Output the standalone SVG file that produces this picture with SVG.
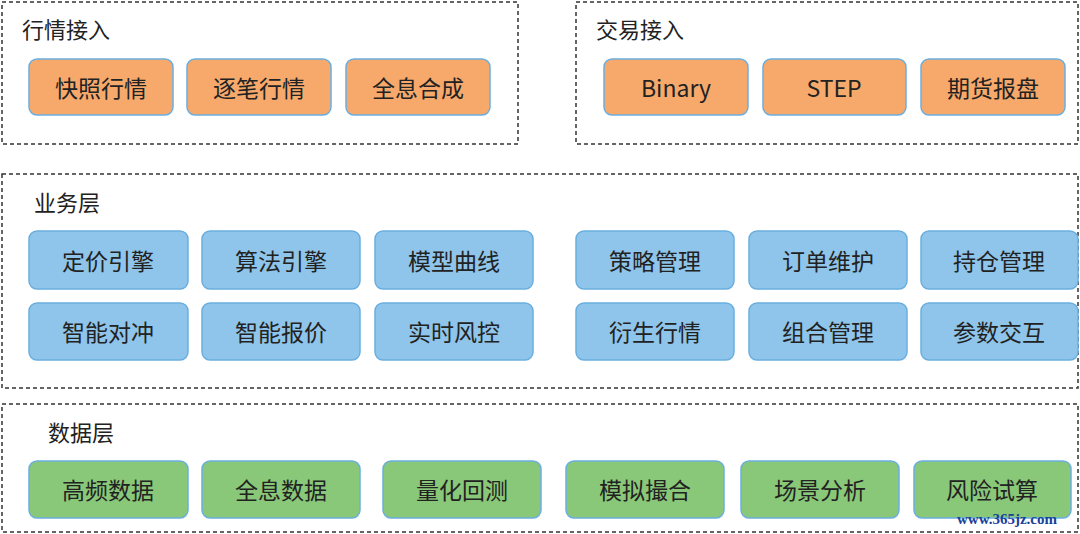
<svg xmlns="http://www.w3.org/2000/svg" width="1080" height="534" viewBox="0 0 1080 534">
<style>
.c{fill:none;stroke:#333;stroke-width:1.5;stroke-dasharray:4 3}
.b rect{stroke:#6aaee0;stroke-width:1.5}
.o rect{fill:#f6a96b}.u rect{fill:#8fc5ea}.g rect{fill:#89c878}
text{font-family:"Noto Sans CJK SC","Liberation Sans",sans-serif;fill:#222}
.t{font-size:22px}
.b text{font-size:23px;text-anchor:middle;dominant-baseline:central}
.w{font-family:"Liberation Serif",serif;font-size:15px;font-weight:bold;fill:#1a3f9a}
</style>
<rect width="1080" height="534" fill="#fff"/>
<g id="containers">
<rect class="c" x="2" y="2" width="516" height="142"/><text class="t" x="22" y="38">行情接入</text>
<rect class="c" x="576" y="2" width="502" height="142"/><text class="t" x="596" y="38">交易接入</text>
<rect class="c" x="2" y="174" width="1076" height="214"/><text class="t" x="34" y="211">业务层</text>
<rect class="c" x="2" y="404" width="1076" height="128"/><text class="t" x="48" y="441">数据层</text>
</g>
<g id="n1" class="b o"><rect x="29" y="59" width="144" height="56" rx="8"/><text x="101" y="87">快照行情</text></g>
<g id="n2" class="b o"><rect x="187" y="59" width="144" height="56" rx="8"/><text x="259" y="87">逐笔行情</text></g>
<g id="n3" class="b o"><rect x="346" y="59" width="144" height="56" rx="8"/><text x="418" y="87">全息合成</text></g>
<g id="n4" class="b o"><rect x="604" y="59" width="144" height="56" rx="8"/><text x="676" y="87">Binary</text></g>
<g id="n5" class="b o"><rect x="763" y="59" width="143" height="56" rx="8"/><text x="834" y="87">STEP</text></g>
<g id="n6" class="b o"><rect x="921" y="59" width="144" height="56" rx="8"/><text x="993" y="87">期货报盘</text></g>
<g id="u1" class="b u"><rect x="29" y="231" width="159" height="58" rx="8"/><text x="108" y="260">定价引擎</text></g>
<g id="u2" class="b u"><rect x="202" y="231" width="158" height="58" rx="8"/><text x="281" y="260">算法引擎</text></g>
<g id="u3" class="b u"><rect x="375" y="231" width="158" height="58" rx="8"/><text x="454" y="260">模型曲线</text></g>
<g id="u4" class="b u"><rect x="576" y="231" width="158" height="58" rx="8"/><text x="655" y="260">策略管理</text></g>
<g id="u5" class="b u"><rect x="749" y="231" width="158" height="58" rx="8"/><text x="828" y="260">订单维护</text></g>
<g id="u6" class="b u"><rect x="921" y="231" width="157" height="58" rx="8"/><text x="999" y="260">持仓管理</text></g>
<g id="u7" class="b u"><rect x="29" y="303" width="159" height="57" rx="8"/><text x="108" y="331">智能对冲</text></g>
<g id="u8" class="b u"><rect x="202" y="303" width="158" height="57" rx="8"/><text x="281" y="331">智能报价</text></g>
<g id="u9" class="b u"><rect x="375" y="303" width="158" height="57" rx="8"/><text x="454" y="331">实时风控</text></g>
<g id="u10" class="b u"><rect x="576" y="303" width="158" height="57" rx="8"/><text x="655" y="331">衍生行情</text></g>
<g id="u11" class="b u"><rect x="749" y="303" width="158" height="57" rx="8"/><text x="828" y="331">组合管理</text></g>
<g id="u12" class="b u"><rect x="921" y="303" width="157" height="57" rx="8"/><text x="999" y="331">参数交互</text></g>
<g id="d1" class="b g"><rect x="29" y="461" width="159" height="57" rx="8"/><text x="108" y="489">高频数据</text></g>
<g id="d2" class="b g"><rect x="202" y="461" width="158" height="57" rx="8"/><text x="281" y="489">全息数据</text></g>
<g id="d3" class="b g"><rect x="383" y="461" width="158" height="57" rx="8"/><text x="462" y="489">量化回测</text></g>
<g id="d4" class="b g"><rect x="566" y="461" width="158" height="57" rx="8"/><text x="645" y="489">模拟撮合</text></g>
<g id="d5" class="b g"><rect x="741" y="461" width="158" height="57" rx="8"/><text x="820" y="489">场景分析</text></g>
<g id="d6" class="b g"><rect x="914" y="461" width="157" height="57" rx="8"/><text x="992" y="489">风险试算</text></g>
<g id="connectors"/>
<text class="w" x="957" y="524">www.365jz.com</text>
</svg>
